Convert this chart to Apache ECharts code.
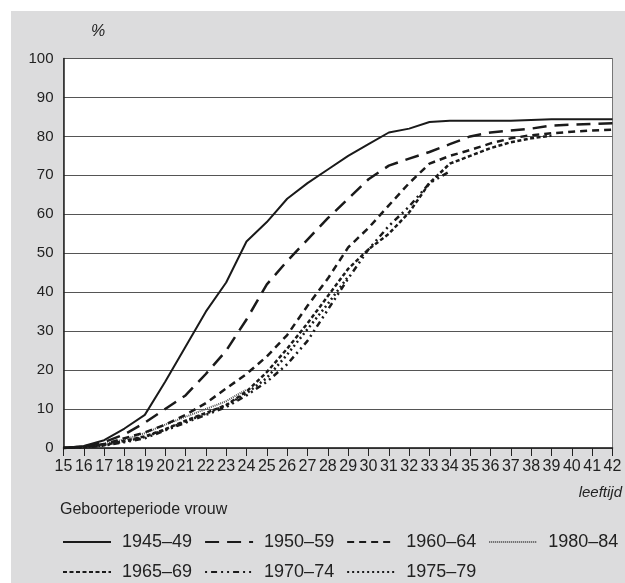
<!DOCTYPE html>
<html><head><meta charset="utf-8">
<script src="https://cdn.jsdelivr.net/npm/echarts@6/dist/echarts.min.js"></script>
<style>html,body{margin:0;padding:0;background:#fff}#c{width:625px;height:583px}</style>
</head><body><div id="c"></div>
<script>
const ages = [15,16,17,18,19,20,21,22,23,24,25,26,27,28,29,30,31,32,33,34,35,36,37,38,39,40,41,42];
const yTicks = [0,10,20,30,40,50,60,70,80,90,100];
const c1945 = [0,0.5,2,5,8.5,17,26,35,42.5,53,58,64,68,71.5,75,78,81,82,83.7,84,84,84,84,84.2,84.4,84.4,84.4,84.4];
const c1950 = [0,0.4,1.5,3.5,6.5,10,13.5,19,25,33,42,48,53.5,59,64,69,72.5,74.3,76,78,80,81,81.5,82,82.8,83,83.2,83.4];
const c1960 = [0,0.3,1,2.5,4,6,8.5,11.5,15.3,19,23.5,29,36.5,43.5,51.5,56.5,62.3,68,73,75,76.5,78.2,79.5,80.3,80.8,81.2,81.5,81.7];
const c1965 = [0,0.3,0.8,1.8,3,4.8,7,9,11,14.5,19.5,25.5,32,39,46,51,55,60.5,68,73,75,77,78.5,79.5,80.2];
const c1970 = [0,0.2,0.6,1.5,2.5,4.5,6.5,8.5,10.5,13.5,17,21.5,27.5,35.5,43.5,51,57,62,68,71];
const c1975 = [0,0.2,0.7,1.7,2.8,4.7,6.8,8.8,11,14,18,24,30.5,37,44];
const c1980 = [0,0.3,1,2.2,3.8,6,8,10,12,15];
const names = ['1945–49','1950–59','1960–64','1965–69','1970–74','1975–79','1980–84'];

const chart = echarts.init(document.getElementById('c'), null, {renderer:'canvas'});
const FONT = 'Liberation Sans, Arial, sans-serif';
function pairs(arr){ return arr.map((v,i)=>[ages[i], v]); }
const styles = [
  {type:'solid', width:2},
  {type:[14,8], width:2.5},
  {type:[7,5], width:2.5},
  {type:[4,2.5], width:2.5},
  {type:[2,4,6,4,2,4], width:2.5},
  {type:[2,3], width:2.5},
  {type:[1,1], width:2}
];
const seriesData = [c1945,c1950,c1960,c1965,c1970,c1975,c1980];
const series = seriesData.map((d,i)=>({
  name: names[i], type:'line', data: pairs(d), symbol:'none', smooth:false,
  lineStyle: Object.assign({color: i===6 ? '#555' : '#1a1a1a'}, styles[i]),
  itemStyle:{color: i===6 ? '#555' : '#1a1a1a'},
  z: 10 - i
}));
const legendCommon = {orient:'horizontal', itemWidth:48, itemHeight:14, itemGap:12,
  itemStyle:{opacity:0},
  textStyle:{fontFamily:FONT, fontSize:18, color:'#222', padding:[0,0,0,6]}, padding:0};
chart.setOption({
  animation:false,
  backgroundColor:'#fff',
  graphic:[
    {type:'rect', shape:{x:11, y:11, width:614, height:572}, style:{fill:'#dcdcdd'}, z:-10, silent:true},
    {type:'text', left:91, top:24, style:{text:'%', font:'italic 16px '+FONT, fill:'#222'}},
    {type:'text', right:3, top:485, style:{text:'leeftijd', font:'italic 15px '+FONT, fill:'#222'}},
    {type:'text', left:60, top:502, style:{text:'Geboorteperiode vrouw', font:'16px '+FONT, fill:'#222'}}
  ],
  legend: [
    Object.assign({id:'l1', data:[names[0],names[1],names[2],names[6]], left:62, top:533}, legendCommon),
    Object.assign({id:'l2', data:[names[3],names[4],names[5]], left:62, top:563}, legendCommon)
  ],
  grid:{left:63.5, right:12.5, top:58.5, bottom:135, show:true, backgroundColor:'#fff', borderColor:'#777', borderWidth:1, containLabel:false},
  xAxis:{type:'value', min:15, max:42, interval:1,
    axisLine:{lineStyle:{color:'#222', width:1.5}},
    axisTick:{show:true, inside:false, length:8, lineStyle:{color:'#222'}},
    axisLabel:{fontFamily:FONT, fontSize:16, color:'#222', margin:11, formatter:v=>String(v)},
    splitLine:{show:false}},
  yAxis:{type:'value', min:0, max:100, interval:10,
    axisLine:{show:true, lineStyle:{color:'#222', width:1.5}},
    axisTick:{show:false},
    axisLabel:{fontFamily:FONT, fontSize:15, color:'#222', margin:10},
    splitLine:{show:true, lineStyle:{color:'#555', width:1}}},
  series: series
});
</script></body></html>
